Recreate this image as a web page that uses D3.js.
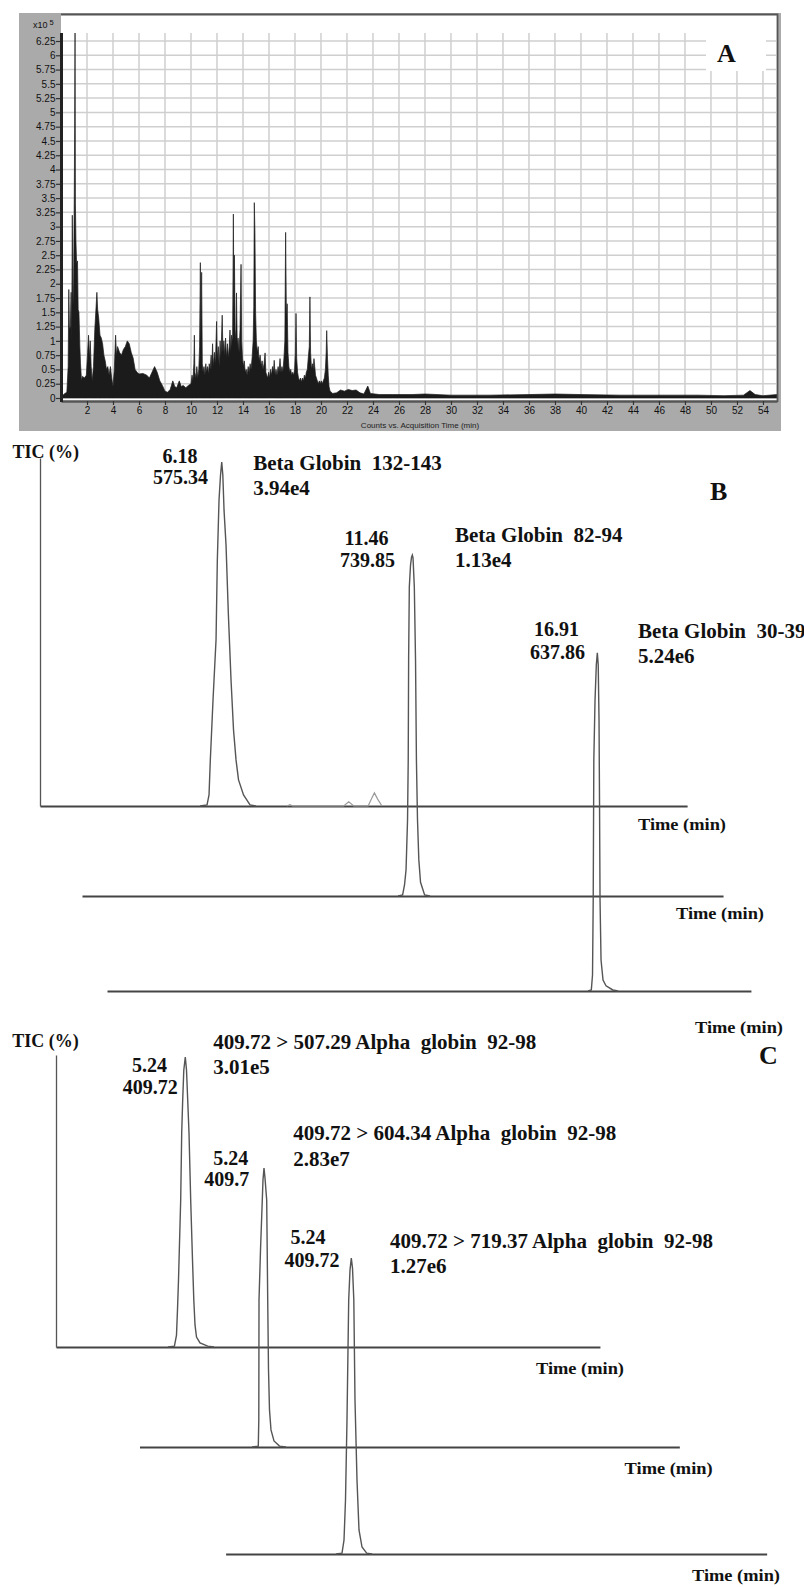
<!DOCTYPE html>
<html><head><meta charset="utf-8">
<script src="https://cdn.jsdelivr.net/npm/d3@7"></script>
<style>body{margin:0;background:#fff}svg{display:block}text{white-space:pre}</style>
</head><body>
<svg id="c" width="804" height="1587"></svg>
<script>
// ---------------- DATA ----------------
// Panel A: total ion chromatogram (counts x10^5 vs acquisition time, min)
const aTime = [0.0,0.3,0.45,0.55,0.6,0.65,0.72,0.78,0.82,0.87,0.92,0.97,1.02,1.05,1.08,1.11,1.15,1.2,1.27,1.32,1.38,1.45,1.5,1.58,1.65,1.8,1.95,2.05,2.12,2.18,2.25,2.32,2.4,2.5,2.6,2.7,2.76,2.82,2.9,3.0,3.1,3.2,3.3,3.4,3.5,3.6,3.7,3.8,3.9,4.0,4.1,4.2,4.27,4.35,4.5,4.65,4.8,4.95,5.1,5.25,5.4,5.55,5.7,5.85,6.0,6.3,6.6,6.8,7.0,7.2,7.4,7.6,7.8,8.0,8.2,8.4,8.6,8.75,8.9,9.1,9.25,9.4,9.6,9.8,
 10.0,10.08,10.15,10.22,10.26,10.3,10.38,10.45,10.52,10.6,10.66,10.72,10.76,10.82,10.87,10.93,11.0,11.07,11.14,11.2,11.27,11.34,11.4,11.47,11.55,11.6,11.66,11.72,11.8,11.88,11.97,12.02,12.1,12.17,12.24,12.3,12.4,12.46,12.53,12.6,12.66,12.73,12.8,12.87,12.94,13.0,13.06,13.12,13.2,13.26,13.3,13.34,13.4,13.46,13.5,13.56,13.62,13.7,13.77,13.85,13.9,13.96,14.03,14.1,14.17,14.25,14.32,14.4,14.47,14.55,14.62,14.7,14.78,14.83,14.87,14.92,14.97,15.03,15.1,15.17,15.24,15.32,15.4,15.47,15.54,15.62,15.7,15.76,15.83,15.9,15.97,16.04,16.12,16.2,16.27,16.34,16.4,16.47,16.54,16.62,16.7,16.77,16.85,16.92,17.0,17.07,17.15,17.22,17.28,17.34,17.4,17.46,17.53,17.6,17.67,17.75,17.82,17.9,17.97,18.03,18.08,18.13,18.2,18.27,18.35,18.42,18.5,18.57,18.65,18.72,18.8,18.87,18.95,19.02,19.1,19.15,19.2,19.27,19.34,19.4,19.46,19.52,19.58,19.65,19.72,19.8,19.87,19.95,20.02,20.1,20.18,20.26,20.34,20.4,20.44,20.5,20.56,20.62,20.7,
 20.9,21.2,21.5,21.8,22.1,22.4,22.7,23.0,23.3,23.6,23.8,24.5,25.5,27.0,28.0,30.0,33.0,36.0,38.0,40.0,43.0,46.0,49.0,51.0,52.5,53.0,53.4,54.0,55.08];
const aCounts = [0.02,0.08,0.1,0.55,1.9,1.2,1.25,1.85,1.0,3.2,1.6,2.0,3.5,4.7,6.5,3.4,2.75,2.35,2.4,1.55,1.5,0.9,0.6,0.3,0.38,0.35,0.4,0.8,1.1,0.7,1.0,0.55,0.3,0.55,1.2,1.6,1.85,1.55,1.4,1.1,1.05,0.95,0.75,0.65,0.5,0.55,0.4,0.55,0.35,0.2,0.5,1.1,0.75,0.9,0.8,0.75,0.85,0.9,1.0,0.95,0.8,0.7,0.5,0.45,0.42,0.43,0.4,0.35,0.45,0.55,0.45,0.3,0.22,0.12,0.1,0.15,0.3,0.2,0.18,0.3,0.2,0.22,0.18,0.22,
 0.25,0.4,0.3,0.6,1.1,0.45,0.35,0.55,0.35,0.5,0.9,2.37,1.0,2.2,0.6,0.45,0.55,0.4,0.6,0.45,0.55,0.42,0.6,0.5,0.75,0.5,0.95,0.55,0.8,0.6,1.34,0.7,0.9,0.55,1.0,0.7,1.45,0.8,1.0,0.75,1.05,0.7,0.95,0.7,0.9,1.19,0.8,1.1,1.0,3.22,1.5,2.5,1.0,1.2,1.84,0.9,1.05,0.8,1.2,2.34,1.0,0.7,0.55,0.65,0.45,0.5,0.4,0.55,0.45,0.6,0.5,0.7,1.0,1.6,3.42,2.9,1.5,1.0,0.8,0.9,0.65,0.75,0.55,0.65,0.5,0.6,0.79,0.45,0.4,0.35,0.45,0.35,0.5,0.4,0.55,0.45,0.66,0.4,0.5,0.4,0.55,0.45,0.69,0.45,0.55,0.45,0.7,1.0,2.9,1.4,1.65,0.8,0.55,0.45,0.5,0.4,0.45,0.4,0.5,0.8,1.48,0.7,0.45,0.35,0.3,0.35,0.28,0.35,0.3,0.4,0.35,0.45,0.5,0.7,0.9,1.77,0.8,0.5,0.6,0.5,0.69,0.55,0.4,0.35,0.3,0.25,0.3,0.25,0.3,0.25,0.3,0.35,0.5,0.8,1.18,0.7,0.4,0.2,0.12,
 0.08,0.09,0.14,0.12,0.15,0.13,0.14,0.09,0.07,0.21,0.08,0.06,0.06,0.06,0.07,0.05,0.05,0.06,0.07,0.06,0.05,0.05,0.05,0.04,0.05,0.13,0.06,0.04,0.06];
const aYTicks = [0,0.25,0.5,0.75,1,1.25,1.5,1.75,2,2.25,2.5,2.75,3,3.25,3.5,3.75,4,4.25,4.5,4.75,5,5.25,5.5,5.75,6,6.25];
const aXTicks = [2,4,6,8,10,12,14,16,18,20,22,24,26,28,30,32,34,36,38,40,42,44,46,48,50,52,54];

// Panel B: extracted chromatograms (time min, TIC %)
const b1Time = [5.424,5.668,5.737,5.782,5.876,5.981,6.026,6.085,6.137,6.179,6.217,6.259,6.328,6.408,6.502,6.589,6.676,6.763,6.937,7.163,7.371];
const b1Int  = [0,0.3,3.2,13.4,30.8,48.3,71.5,89.0,96.2,100,96.2,86.0,75.9,56.1,36.6,22.1,13.4,7.6,3.2,0.3,0];
const b1MinorTime = [8.45,8.55,8.65, 10.42,10.595,10.77, 11.27,11.39,11.488,11.6,11.75];
const b1MinorInt  = [0,0.4,0, 0,1.2,0, 0,2.2,3.8,2.0,0];
const b2Time = [10.848,11.008,11.074,11.127,11.179,11.203,11.217,11.241,11.283,11.318,11.346,11.370,11.415,11.457,11.488,11.526,11.572,11.631,11.773,11.961];
const b2Int  = [0,0.3,3.2,7.6,22,39.5,68.6,89.8,96.2,98.5,99.1,98.3,89.8,68.6,39.5,22,10.5,4,0.3,0];
const b3Time = [16.586,16.700,16.742,16.766,16.787,16.829,16.874,16.909,16.940,16.968,16.985,17.003,17.038,17.107,17.211,17.448,17.629];
const b3Int  = [0,0.3,4.7,26.5,67,84.6,94.8,98.3,94.8,78.8,55.5,26.5,9,3.2,1.5,0.3,0];
const bRt   = ["6.18","11.46","16.91"];
const bMz   = ["575.34","739.85","637.86"];
const bName = ["Beta Globin  132-143","Beta Globin  82-94","Beta Globin  30-39"];
const bArea = ["3.94e4","1.13e4","5.24e6"];

// Panel C: MRM transitions
const c1Time = [4.647,4.913,5.000,5.041,5.083,5.174,5.216,5.257,5.303,5.365,5.415,5.465,5.519,5.589,5.664,5.718,5.768,5.830,5.975,6.295,6.556];
const c1Int  = [0,0.3,4.1,12.8,23.1,50.7,73.8,85.2,95.5,100,95.5,85.2,73.8,50.7,30,16.2,7.6,3.4,1.4,0.3,0];
const c2Time = [4.668,4.929,4.950,4.959,5.021,5.095,5.124,5.166,5.207,5.278,5.299,5.320,5.353,5.394,5.456,5.581,5.809,6.079];
const c2Int  = [0,0.3,9.3,50.7,67.9,85.2,92.1,96.2,92.8,85.2,67.9,50.7,26.6,12.8,5.9,2.1,0.3,0];
const c3Time = [4.581,4.830,4.913,4.975,5.037,5.108,5.162,5.216,5.266,5.320,5.369,5.452,5.535,5.660,5.855,6.078];
const c3Int  = [0,0.3,4.8,18.6,46.2,87.6,97.9,102,98.6,87.6,53.1,25.5,8.3,2.4,0.3,0];
const cRt   = ["5.24","5.24","5.24"];
const cMz   = ["409.72","409.7","409.72"];
const cName = ["409.72 > 507.29 Alpha  globin  92-98","409.72 > 604.34 Alpha  globin  92-98","409.72 > 719.37 Alpha  globin  92-98"];
const cArea = ["3.01e5","2.83e7","1.27e6"];

// ---------------- DRAW ----------------
const svg = d3.select('#c');
const serif = '"Liberation Serif","Times New Roman",serif';
const sans = '"Liberation Sans",Arial,sans-serif';
const zip = (a,b)=>a.map((v,i)=>[v,b[i]]);

// ===== Panel A =====
const xA = d3.scaleLinear().domain([0,55.08]).range([61,777]);
const yA = d3.scaleLinear().domain([0,6.25]).range([398,41]);
const topA = 33;
svg.append('rect').attr('x',19).attr('y',13).attr('width',762).attr('height',418).attr('fill','#aaaaaa');
svg.append('rect').attr('x',61).attr('y',14).attr('width',716).attr('height',388).attr('fill','#fff');
const gA = svg.append('g');
gA.selectAll('.hg').data(aYTicks.filter(d=>d>0)).join('line')
  .attr('x1',63).attr('x2',776).attr('y1',d=>yA(d)).attr('y2',d=>yA(d))
  .attr('stroke','#cfcfcf').attr('stroke-width',1.5);
gA.selectAll('.vg').data(aXTicks).join('line')
  .attr('x1',d=>xA(d)).attr('x2',d=>xA(d)).attr('y1',topA).attr('y2',398)
  .attr('stroke','#cfcfcf').attr('stroke-width',1.5);
gA.append('rect').attr('x',706).attr('y',31).attr('width',60).attr('height',40).attr('fill','#fff');
gA.append('text').attr('x',717).attr('y',61.7).text('A')
  .attr('font-family',serif).attr('font-weight','bold').attr('font-size',26).attr('fill','#111');
svg.append('clipPath').attr('id','clipA').append('rect').attr('x',62).attr('y',topA).attr('width',715).attr('height',366);
gA.append('path').datum(zip(aTime,aCounts))
  .attr('clip-path','url(#clipA)')
  .attr('d',d3.area().x(d=>xA(d[0])).y0(yA(0)).y1(d=>yA(d[1])))
  .attr('fill','#1b1b1b').attr('stroke','#1b1b1b').attr('stroke-width',0.7);
gA.append('path').attr('d','M61,14.5H777.5V402').attr('fill','none').attr('stroke','#555').attr('stroke-width',1.8);
const axA = gA.append('g').attr('transform','translate(0,401)')
  .call(d3.axisBottom(xA).tickValues(aXTicks).tickSize(4).tickSizeOuter(0).tickFormat(d3.format('d')));
axA.select('.domain').attr('stroke','#555').attr('stroke-width',2.5);
axA.selectAll('.tick line').attr('stroke','#333').attr('stroke-width',1.2);
axA.selectAll('.tick text').attr('font-family',sans).attr('font-size',10).attr('fill','#111').attr('dy','0.55em');
const ayA = gA.append('g').attr('transform','translate(61,0)')
  .call(d3.axisLeft(yA).tickValues(aYTicks).tickSize(5).tickSizeOuter(0).tickFormat(d=>String(d)));
ayA.select('.domain').remove();
ayA.selectAll('.tick line').attr('stroke','#333').attr('stroke-width',1.2);
ayA.selectAll('.tick text').attr('font-family',sans).attr('font-size',10).attr('fill','#111').attr('x',-5.5);
gA.append('line').attr('x1',61.5).attr('x2',61.5).attr('y1',topA).attr('y2',402).attr('stroke','#222').attr('stroke-width',3);
const xl = gA.append('text').attr('x',33).attr('y',28).attr('font-family',sans).attr('font-size',9).attr('fill','#111');
xl.append('tspan').text('x10');
xl.append('tspan').attr('dy',-3).attr('dx',2).attr('font-size',7.5).text('5');
gA.append('text').attr('x',420).attr('y',427.5).attr('text-anchor','middle')
  .attr('font-family',sans).attr('font-size',8).attr('fill','#222').text('Counts vs. Acquisition Time (min)');

function label(x,y,txt,size,anchor,len){
  const t = svg.append('text').attr('x',x).attr('y',y).text(txt)
    .attr('font-family',serif).attr('font-weight','bold').attr('font-size',size)
    .attr('fill','#111').attr('text-anchor',anchor||'start');
  if(len) t.attr('textLength',len).attr('lengthAdjust','spacingAndGlyphs');
  return t;
}

// ===== Panel B =====
const kB = 28.76;
const bTraces = [
  {off:40, base:806, end:22.36},
  {off:82, base:896, end:22.15},
  {off:107, base:991, end:22.25}
];
const bSeries = [zip(b1Time,b1Int), zip(b2Time,b2Int), zip(b3Time,b3Int)];
bTraces.forEach((t)=>{
  t.x = d3.scaleLinear().domain([-0.14,t.end]).range([t.off, t.off+(t.end+0.14)*kB]);
  t.y = d3.scaleLinear().domain([0,100]).range([t.base, t.base-344]);
});
bTraces.forEach((t)=>{
  const g = svg.append('g').attr('transform',`translate(0,${t.base})`)
    .call(d3.axisBottom(t.x).tickValues([]).tickSizeOuter(0));
  g.select('.domain').attr('stroke','#444').attr('stroke-width',2.2);
});
{ const t = bTraces[0];
  const g = svg.append('g').attr('transform',`translate(${t.off},0)`)
    .call(d3.axisLeft(t.y.copy().domain([0,101.2]).range([t.base,t.base-348])).tickValues([]).tickSizeOuter(0));
  g.select('.domain').attr('stroke','#555').attr('stroke-width',1.3);
}
svg.append('path').datum(zip(b1MinorTime,b1MinorInt))
  .attr('d',d3.line().x(d=>bTraces[0].x(d[0])).y(d=>bTraces[0].y(d[1])))
  .attr('fill','none').attr('stroke','#9a9a9a').attr('stroke-width',1.2);
bSeries.forEach((s,i)=>{
  const t = bTraces[i];
  svg.append('path').datum(s)
    .attr('d',d3.line().x(d=>t.x(d[0])).y(d=>t.y(d[1])))
    .attr('fill','none').attr('stroke','#555').attr('stroke-width',1.4);
});
label(12.5,458,'TIC (%)',18);
const bRtPos = [[180,462.7],[366.5,545],[556.5,636]];
const bMzPos = [[180.5,484],[367.5,566.7],[557.5,659]];
const bNamePos = [[253.3,470],[455,542],[638,638]];
const bAreaPos = [[253.3,495],[455,567],[638,663]];
bRt.forEach((s,i)=>label(bRtPos[i][0],bRtPos[i][1],s,20,'middle'));
bMz.forEach((s,i)=>label(bMzPos[i][0],bMzPos[i][1],s,20,'middle'));
bName.forEach((s,i)=>label(bNamePos[i][0],bNamePos[i][1],s,21));
bArea.forEach((s,i)=>label(bAreaPos[i][0],bAreaPos[i][1],s,21));
label(710,500,'B',26);
[[638,829.5],[676,918.5],[695,1033]].forEach(p=>label(p[0],p[1],'Time (min)',16,'start',88));

// ===== Panel C =====
const kC = 24.1;
const cTraces = [
  {off:56, base:1347, end:22.57},
  {off:139.5, base:1447, end:22.4},
  {off:225.6, base:1554, end:22.45}
];
const cSeries = [zip(c1Time,c1Int), zip(c2Time,c2Int), zip(c3Time,c3Int)];
cTraces.forEach((t)=>{
  t.x = d3.scaleLinear().domain([0,t.end]).range([t.off, t.off+t.end*kC]);
  t.y = d3.scaleLinear().domain([0,100]).range([t.base, t.base-290]);
});
cTraces.forEach((t)=>{
  const g = svg.append('g').attr('transform',`translate(0,${t.base})`)
    .call(d3.axisBottom(t.x).tickValues([]).tickSizeOuter(0));
  g.select('.domain').attr('stroke','#444').attr('stroke-width',2.2);
});
{ const t = cTraces[0];
  const g = svg.append('g').attr('transform',`translate(${t.off},0)`)
    .call(d3.axisLeft(t.y.copy().domain([0,100.7]).range([t.base,t.base-292])).tickValues([]).tickSizeOuter(0));
  g.select('.domain').attr('stroke','#555').attr('stroke-width',1.3);
}
cSeries.forEach((s,i)=>{
  const t = cTraces[i];
  svg.append('path').datum(s)
    .attr('d',d3.line().x(d=>t.x(d[0])).y(d=>t.y(d[1])))
    .attr('fill','none').attr('stroke','#555').attr('stroke-width',1.4);
});
label(12.3,1046.7,'TIC (%)',18);
const cRtPos = [[149.5,1071.7],[230.7,1164.7],[308,1244]];
const cMzPos = [[122.7,1094],[204.3,1186],[284.5,1267]];
const cNamePos = [[213.3,1049],[293.3,1140],[390,1248]];
const cAreaPos = [[213.3,1074],[293.3,1165.7],[390,1273]];
cRt.forEach((s,i)=>label(cRtPos[i][0],cRtPos[i][1],s,20,'middle'));
cMz.forEach((s,i)=>label(cMzPos[i][0],cMzPos[i][1],s,20,'start'));
cName.forEach((s,i)=>label(cNamePos[i][0],cNamePos[i][1],s,21));
cArea.forEach((s,i)=>label(cAreaPos[i][0],cAreaPos[i][1],s,21));
label(759,1064,'C',26);
[[536,1374],[624.6,1474],[692,1581]].forEach(p=>label(p[0],p[1],'Time (min)',16,'start',88));
</script>
</body></html>
